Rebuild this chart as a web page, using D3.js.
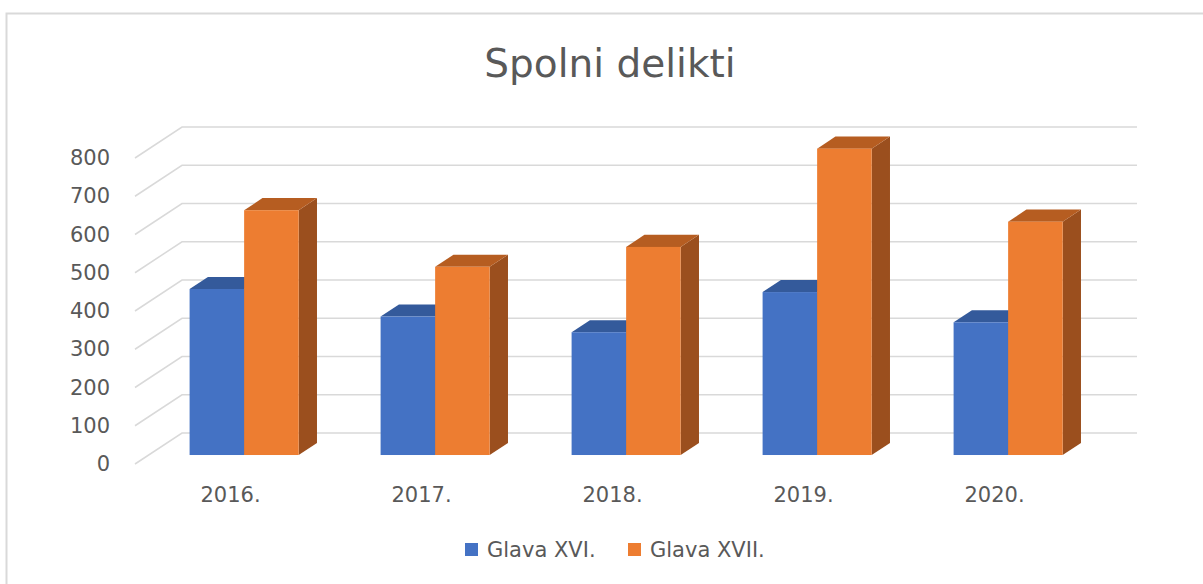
<!DOCTYPE html>
<html>
<head>
<meta charset="utf-8">
<script src="https://cdn.jsdelivr.net/npm/d3@7"></script>
<style>
  body { margin: 0; background: #fff; }
  text { font-family: "DejaVu Sans", sans-serif; fill: #595959; }
</style>
</head>
<body>
<svg id="chart" width="1203" height="584"></svg>
<script>
// data
const years = ["2016.", "2017.", "2018.", "2019.", "2020."];
const seriesNames = ["Glava XVI.", "Glava XVII."];
const glavaXVI = [434, 362, 321, 426, 347];
const glavaXVII = [640, 492, 544, 801, 610];
const yTicks = [0, 100, 200, 300, 400, 500, 600, 700, 800];

const colors = {
  "Glava XVI.": { front: "#4472c4", top: "#345a9b", side: "#2f5290" },
  "Glava XVII.": { front: "#ed7d31", top: "#b65d21", side: "#9b4f1e" }
};

const svg = d3.select("#chart");

// frame
svg.append("rect")
  .attr("x", 6.5).attr("y", 13.5)
  .attr("width", 1210).attr("height", 590)
  .attr("fill", "#fff").attr("stroke", "#d9d9d9").attr("stroke-width", 2);

// oblique depth of the 3d box (front -> back wall)
const depthX = 47, depthY = -31;
const barFront = 0.29, barBack = 0.68;

const x = d3.scaleBand()
  .domain(years)
  .range([135, 1090])
  .paddingInner(0.429)
  .paddingOuter(0.2145);

const xs = d3.scaleBand()
  .domain(seriesNames)
  .range([0, x.bandwidth()]);

const y = d3.scaleLinear().domain([0, 800]).range([464, 158]);

// gridlines: diagonal on the side wall, then straight on the back wall
const grid = svg.append("g");
yTicks.forEach(v => {
  const y0 = y(v);
  grid.append("path")
    .attr("d", `M135,${y0}L${135 + depthX},${y0 + depthY}L1137,${y0 + depthY}`)
    .attr("fill", "none")
    .attr("stroke", "#d9d9d9")
    .attr("stroke-width", 1.5);
});

// y axis labels
const yAxis = d3.axisLeft(y).tickValues(yTicks).tickSize(0).tickPadding(25);
const ya = svg.append("g").attr("transform", "translate(135,0)").call(yAxis);
ya.select(".domain").remove();
ya.selectAll("text")
  .style("font-family", "DejaVu Sans, sans-serif")
  .style("font-size", "21px")
  .attr("fill", "#595959");

// bars
const rows = [];
years.forEach((yr, i) => {
  rows.push({ year: yr, name: seriesNames[0], value: glavaXVI[i] });
  rows.push({ year: yr, name: seriesNames[1], value: glavaXVII[i] });
});

const fx = barFront * depthX, fy = barFront * depthY;
const bdx = (barBack - barFront) * depthX, bdy = (barBack - barFront) * depthY;

const bars = svg.append("g").selectAll("g")
  .data(rows)
  .join("g");

bars.each(function (d) {
  const g = d3.select(this);
  const x0 = x(d.year) + xs(d.name) + fx;
  const x1 = x0 + xs.bandwidth();
  const yb = y(0) + fy;
  const yt = y(d.value) + fy;
  const c = colors[d.name];
  // right side face
  g.append("path")
    .attr("d", `M${x1},${yt}L${x1 + bdx},${yt + bdy}L${x1 + bdx},${yb + bdy}L${x1},${yb}Z`)
    .attr("fill", c.side);
  // top face
  g.append("path")
    .attr("d", `M${x0},${yt}L${x0 + bdx},${yt + bdy}L${x1 + bdx},${yt + bdy}L${x1},${yt}Z`)
    .attr("fill", c.top);
  // front face
  g.append("rect")
    .attr("x", x0).attr("y", yt)
    .attr("width", x1 - x0).attr("height", yb - yt)
    .attr("fill", c.front);
});

// category labels
svg.append("g").selectAll("text")
  .data(years)
  .join("text")
  .attr("x", d => x(d) + x.bandwidth() / 2)
  .attr("y", 502)
  .attr("text-anchor", "middle")
  .style("font-size", "21px")
  .text(d => d);

// title
svg.append("text")
  .attr("x", 610).attr("y", 77)
  .attr("text-anchor", "middle")
  .style("font-size", "39px")
  .text("Spolni delikti");

// legend
const legendX = [465, 628];
const legend = svg.append("g").selectAll("g")
  .data(seriesNames)
  .join("g")
  .attr("transform", (d, i) => `translate(${legendX[i]},543)`);
legend.append("rect")
  .attr("width", 13).attr("height", 13)
  .attr("fill", d => colors[d].front);
legend.append("text")
  .attr("x", 22).attr("y", 14)
  .style("font-size", "21px")
  .text(d => d);
</script>
</body>
</html>
